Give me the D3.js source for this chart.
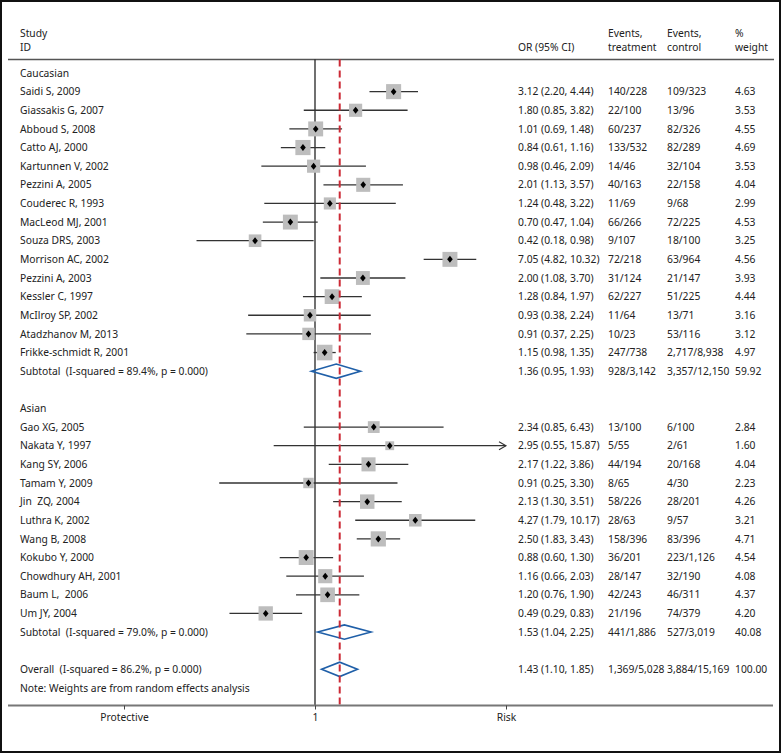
<!DOCTYPE html>
<html><head><meta charset="utf-8">
<script src="https://cdn.jsdelivr.net/npm/d3@7"></script>
<style>
html,body{margin:0;padding:0;background:#fff;}
text{font-family:"Noto Sans","Open Sans",sans-serif;font-size:10.3px;fill:#222;white-space:pre;}
</style></head>
<body>
<svg id="c" width="783" height="755"></svg>
<script>
// ---- data ----
const cauStudies = ["Saidi S, 2009","Giassakis G, 2007","Abboud S, 2008","Catto AJ, 2000","Kartunnen V, 2002","Pezzini A, 2005","Couderec R, 1993","MacLeod MJ, 2001","Souza DRS, 2003","Morrison AC, 2002","Pezzini A, 2003","Kessler C, 1997","McIlroy SP, 2002","Atadzhanov M, 2013","Frikke-schmidt R, 2001"];
const cauOR = [3.12,1.80,1.01,0.84,0.98,2.01,1.24,0.70,0.42,7.05,2.00,1.28,0.93,0.91,1.15];
const cauLo = [2.20,0.85,0.69,0.61,0.46,1.13,0.48,0.47,0.18,4.82,1.08,0.84,0.38,0.37,0.98];
const cauHi = [4.44,3.82,1.48,1.16,2.09,3.57,3.22,1.04,0.98,10.32,3.70,1.97,2.24,2.25,1.35];
const cauEvT = ["140/228","22/100","60/237","133/532","14/46","40/163","11/69","66/266","9/107","72/218","31/124","62/227","11/64","10/23","247/738"];
const cauEvC = ["109/323","13/96","82/326","82/289","32/104","22/158","9/68","72/225","18/100","63/964","21/147","51/225","13/71","53/116","2,717/8,938"];
const cauW = [4.63,3.53,4.55,4.69,3.53,4.04,2.99,4.53,3.25,4.56,3.93,4.44,3.16,3.12,4.97];

const asiStudies = ["Gao XG, 2005","Nakata Y, 1997","Kang SY, 2006","Tamam Y, 2009","Jin  ZQ, 2004","Luthra K, 2002","Wang B, 2008","Kokubo Y, 2000","Chowdhury AH, 2001","Baum L,  2006","Um JY, 2004"];
const asiOR = [2.34,2.95,2.17,0.91,2.13,4.27,2.50,0.88,1.16,1.20,0.49];
const asiLo = [0.85,0.55,1.22,0.25,1.30,1.79,1.83,0.60,0.66,0.76,0.29];
const asiHi = [6.43,15.87,3.86,3.30,3.51,10.17,3.43,1.30,2.03,1.90,0.83];
const asiEvT = ["13/100","5/55","44/194","8/65","58/226","28/63","158/396","36/201","28/147","42/243","21/196"];
const asiEvC = ["6/100","2/61","20/168","4/30","28/201","9/57","83/396","223/1,126","32/190","46/311","74/379"];
const asiW = [2.84,1.60,4.04,2.23,4.26,3.21,4.71,4.54,4.08,4.37,4.20];

const pooledLabels = ["Subtotal  (I-squared = 89.4%, p = 0.000)","Subtotal  (I-squared = 79.0%, p = 0.000)","Overall  (I-squared = 86.2%, p = 0.000)"];
const pooledOR = [1.36,1.53,1.43];
const pooledLo = [0.95,1.04,1.10];
const pooledHi = [1.93,2.25,1.85];
const pooledEvT = ["928/3,142","441/1,886","1,369/5,028"];
const pooledEvC = ["3,357/12,150","527/3,019","3,884/15,169"];
const pooledW = ["59.92","40.08","100.00"];

const axisMin = 1/15.87, axisMax = 15.87;
const tickVals = [axisMin, 1, axisMax];
const tickLabels = ["Protective","1","Risk"];

// ---- build rows ----
const rows = [];
rows.push({type:"group", label:"Caucasian"});
cauStudies.forEach((s,i)=>rows.push({type:"study",label:s,or:cauOR[i],lo:cauLo[i],hi:cauHi[i],evT:cauEvT[i],evC:cauEvC[i],w:cauW[i]}));
rows.push({type:"pooled",label:pooledLabels[0],or:pooledOR[0],lo:pooledLo[0],hi:pooledHi[0],evT:pooledEvT[0],evC:pooledEvC[0],w:pooledW[0]});
rows.push({type:"blank"});
rows.push({type:"group", label:"Asian"});
asiStudies.forEach((s,i)=>rows.push({type:"study",label:s,or:asiOR[i],lo:asiLo[i],hi:asiHi[i],evT:asiEvT[i],evC:asiEvC[i],w:asiW[i]}));
rows.push({type:"pooled",label:pooledLabels[1],or:pooledOR[1],lo:pooledLo[1],hi:pooledHi[1],evT:pooledEvT[1],evC:pooledEvC[1],w:pooledW[1]});
rows.push({type:"blank"});
rows.push({type:"pooled",label:pooledLabels[2],or:pooledOR[2],lo:pooledLo[2],hi:pooledHi[2],evT:pooledEvT[2],evC:pooledEvC[2],w:pooledW[2],overall:true});
rows.push({type:"note",label:"Note: Weights are from random effects analysis"});

const svg = d3.select("#c");
const x = d3.scaleLog().domain([axisMin, axisMax]).range([124, 506]);
const y = d3.scaleLinear().domain([0, rows.length-1]).range([73, 73 + 18.636*(rows.length-1)]);
const topY = 59.5, axisY = 705.5;
const fmt = d3.format(".2f");
const ciText = d => `${fmt(d.or)} (${fmt(d.lo)}, ${fmt(d.hi)})`;
const colX = {label:20, or:518, evT:608, evC:667, w:735};

// border
svg.append("rect").attr("x",1).attr("y",1).attr("width",779).attr("height",751)
  .attr("fill","none").attr("stroke","#111").attr("stroke-width",2);

// header
const hdr = [[colX.label,"Study","ID"],[colX.or,"","OR (95% CI)"],[colX.evT,"Events,","treatment"],[colX.evC,"Events,","control"],[colX.w,"%","weight"]];
hdr.forEach(h=>{
  svg.append("text").attr("x",h[0]).attr("y",33).attr("dy","0.35em").text(h[1]);
  svg.append("text").attr("x",h[0]).attr("y",47.5).attr("dy","0.35em").text(h[2]);
});
svg.append("line").attr("x1",8).attr("x2",774).attr("y1",topY).attr("y2",topY).attr("stroke","#555").attr("stroke-width",1.5);

// null line
svg.append("line").attr("x1",x(1)).attr("x2",x(1)).attr("y1",topY).attr("y2",axisY).attr("stroke","#111").attr("stroke-width",1.2);

// row texts
rows.forEach((r,i)=>{
  const cy = y(i);
  if (r.type==="blank") return;
  svg.append("text").attr("x",colX.label).attr("y",cy).attr("dy","0.35em").text(r.label);
  if (r.type==="group" || r.type==="note") return;
  svg.append("text").attr("x",colX.or).attr("y",cy).attr("dy","0.35em").text(ciText(r));
  svg.append("text").attr("x",colX.evT).attr("y",cy).attr("dy","0.35em").text(r.evT);
  svg.append("text").attr("x",colX.evC).attr("y",cy).attr("dy","0.35em").text(r.evC);
  svg.append("text").attr("x",colX.w).attr("y",cy).attr("dy","0.35em").text(typeof r.w==="number"?fmt(r.w):r.w);
});

// marks
const g = svg.append("g");
rows.forEach((r,i)=>{
  const cy = y(i);
  if (r.type==="study") {
    const hiC = Math.min(r.hi, axisMax), loC = Math.max(r.lo, axisMin);
    g.append("line").attr("x1",x(loC)).attr("x2",x(hiC)).attr("y1",cy).attr("y2",cy).attr("stroke","#333").attr("stroke-width",1.3);
    if (r.hi >= axisMax) {
      const ax = x(axisMax);
      g.append("path").attr("d",`M${ax-7},${cy-4}L${ax},${cy}L${ax-7},${cy+4}`).attr("fill","none").attr("stroke","#333").attr("stroke-width",1.1);
    }
    const s = 7*Math.sqrt(r.w);
    g.append("rect").attr("x",x(r.or)-s/2).attr("y",cy-s/2).attr("width",s).attr("height",s).attr("fill","#bdbdbd");
    const px = x(r.or);
    g.append("path").attr("d",`M${px},${cy-3.5}L${px+2.8},${cy}L${px},${cy+3.5}L${px-2.8},${cy}Z`).attr("fill","#000");
  } else if (r.type==="pooled") {
    const h = 7.2;
    g.append("path").attr("d",`M${x(r.lo)},${cy}L${x(r.or)},${cy-h}L${x(r.hi)},${cy}L${x(r.or)},${cy+h}Z`)
      .attr("fill","none").attr("stroke","#1f5fa8").attr("stroke-width",1.6);
  }
});

// overall dashed line
const ov = pooledOR[2];
svg.append("line").attr("x1",x(ov)).attr("x2",x(ov)).attr("y1",topY).attr("y2",axisY)
  .attr("stroke","#cc2a36").attr("stroke-width",2).attr("stroke-dasharray","7,4");

// axis
svg.append("line").attr("x1",8).attr("x2",773).attr("y1",axisY).attr("y2",axisY).attr("stroke","#777").attr("stroke-width",2);
const axis = d3.axisBottom(x).tickValues(tickVals).tickFormat((d,i)=>tickLabels[i]).tickSize(4).tickPadding(4);
const ag = svg.append("g").attr("transform",`translate(0,${axisY})`).call(axis);
ag.select(".domain").remove();
ag.selectAll(".tick line").attr("stroke","#444");
ag.selectAll(".tick text").attr("font-family",null).attr("font-size",null).style("fill","#222");
</script>
</body></html>
